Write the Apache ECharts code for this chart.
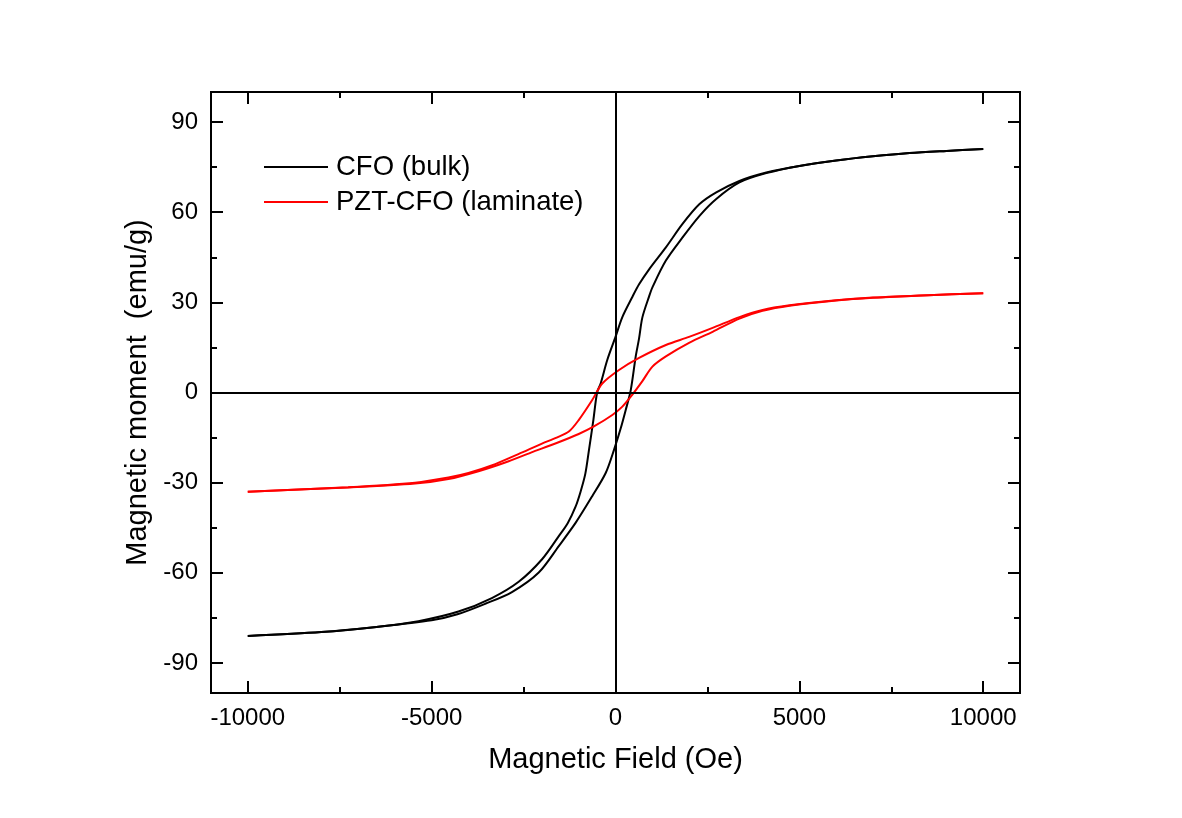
<!DOCTYPE html>
<html>
<head>
<meta charset="utf-8">
<script src="https://cdn.jsdelivr.net/npm/echarts@6/dist/echarts.min.js"></script>
<style>
  html, body { margin: 0; padding: 0; background: #fff; }
  #chart { width: 1182px; height: 818px; }
</style>
</head>
<body>
<div id="chart"></div>
<script>
// CFO (bulk) loop: field sweeping down from +10 kOe, then back up
var cfoDownField = [10000, 9000, 8000, 7000, 6000, 5000, 4100, 3370, 2740, 2285, 1823, 1370, 914, 641, 458, 186, 0, -224, -404, -500, -600, -720, -820, -950, -1086, -1300, -1542, -1997, -2633, -3362, -4270, -5362, -6500, -8000, -10000];
var cfoDownMoment = [81.0, 80.4, 79.7, 78.6, 77.2, 75.4, 73.2, 70.4, 66.6, 62.7, 56.1, 48.3, 41.0, 36.0, 31.8, 25.1, 18.5, 10.8, 3.0, 0.0, -9.0, -19.0, -27.0, -33.0, -38.0, -43.5, -47.8, -55.5, -63.0, -68.4, -72.9, -76.1, -78.0, -79.7, -81.0];
var cfoUpField = [-10000, -8000, -6500, -5000, -4300, -3542, -2816, -2087, -1542, -1086, -633, -267, -41, 140, 278, 415, 550, 641, 731, 914, 1004, 1370, 1823, 2285, 2740, 3370, 4100, 5000, 6000, 7000, 8000, 9000, 10000];
var cfoUpMoment = [-81.0, -79.7, -78.0, -75.8, -73.8, -70.3, -66.4, -59.9, -51.1, -43.4, -34.5, -26.8, -19.1, -12.0, -5.8, 0.8, 12.0, 18.0, 25.0, 32.0, 35.0, 43.9, 51.6, 58.8, 64.4, 69.9, 73.0, 75.4, 77.2, 78.6, 79.7, 80.4, 81.0];

// PZT-CFO (laminate) loop
var pztDownField = [10000, 8500, 7000, 6000, 4734, 4000, 3370, 2641, 2000, 1370, 641, 96, -360, -633, -996, -1269, -1600, -2000, -2641, -3370, -4000, -4543, -5450, -7270, -10000];
var pztDownMoment = [33.0, 32.4, 31.6, 30.7, 29.0, 27.5, 25.1, 21.5, 18.5, 15.8, 11.5, 7.5, 3.0, -2.5, -9.1, -13.0, -15.0, -17.0, -20.5, -24.3, -26.8, -28.3, -30.0, -31.5, -33.0];
var pztUpField = [-10000, -7270, -5450, -4543, -3725, -3000, -2300, -1600, -1000, -587, -87, 186, 415, 731, 1004, 1370, 2000, 2641, 3370, 4000, 4734, 6000, 7000, 8500, 10000];
var pztUpMoment = [-33.0, -31.6, -30.3, -28.8, -26.2, -23.3, -20.0, -16.8, -13.8, -11.3, -7.5, -4.7, -1.4, 3.8, 8.6, 12.0, 16.5, 20.2, 24.6, 27.2, 28.9, 30.6, 31.5, 32.4, 33.0];

var fieldMajor = [-10000, -5000, 0, 5000, 10000];
var fieldMinor = [-7500, -2500, 2500, 7500];
var momentMajor = [-90, -60, -30, 0, 30, 60, 90];
var momentMinor = [-75, -45, -15, 15, 45, 75];

function zip(xs, ys) {
  return xs.map(function (x, i) { return [x, ys[i]]; });
}

var font = 'Liberation Sans, Arial, sans-serif';
var myChart = echarts.init(document.getElementById('chart'));

function frameAxis(pos, ticks, len, showLabel, range) {
  return {
    type: 'value',
    position: pos,
    min: range[0],
    max: range[1],
    axisLine: { show: true, onZero: false, lineStyle: { color: '#000', width: 2 } },
    axisTick: { show: true, inside: true, length: len, customValues: ticks, lineStyle: { color: '#000', width: 2 } },
    axisLabel: {
      show: showLabel, customValues: ticks, color: '#000', fontSize: 24, fontFamily: font, margin: 13,
      formatter: function (v) { return String(v); }
    },
    splitLine: { show: false }
  };
}

var xMain = frameAxis('bottom', fieldMajor, 12, true, [-11000, 11000]);
xMain.name = 'Magnetic Field (Oe)';
xMain.nameLocation = 'middle';
xMain.nameGap = 52;
xMain.nameTextStyle = { color: '#000', fontSize: 29, fontFamily: font };

var yMain = frameAxis('left', momentMajor, 12, true, [-100, 100]);
yMain.name = 'Magnetic moment  (emu/g)';
yMain.nameLocation = 'middle';
yMain.nameGap = 58;
yMain.nameTextStyle = { color: '#000', fontSize: 29, fontFamily: font };

var lineStyleBlack = { color: '#000', width: 2 };
var lineStyleRed = { color: '#ff0000', width: 2 };

var option = {
  backgroundColor: '#fff',
  animation: false,
  grid: { left: 211, right: 162, top: 92, bottom: 125 },
  legend: {
    data: ['CFO (bulk)', 'PZT-CFO (laminate)'],
    orient: 'vertical',
    left: 264,
    top: 153,
    padding: 0,
    icon: 'rect',
    itemWidth: 64,
    itemHeight: 2,
    itemGap: 7,
    textStyle: { color: '#000', fontSize: 27.5, fontFamily: font, padding: [0, 0, 0, 3] }
  },
  xAxis: [
    xMain,
    frameAxis('top', fieldMajor, 12, false, [-11000, 11000]),
    frameAxis('bottom', fieldMinor, 6, false, [-11000, 11000]),
    frameAxis('top', fieldMinor, 6, false, [-11000, 11000])
  ],
  yAxis: [
    yMain,
    frameAxis('right', momentMajor, 12, false, [-100, 100]),
    frameAxis('left', momentMinor, 6, false, [-100, 100]),
    frameAxis('right', momentMinor, 6, false, [-100, 100])
  ],
  series: [
    {
      name: 'CFO (bulk)', type: 'line', symbol: 'none', smooth: 0.3,
      data: zip(cfoDownField, cfoDownMoment),
      lineStyle: lineStyleBlack, itemStyle: { color: '#000' },
      markLine: {
        silent: true, symbol: 'none', label: { show: false },
        lineStyle: { color: '#000', width: 2, type: 'solid' },
        data: [{ xAxis: 0 }, { yAxis: 0 }]
      }
    },
    {
      name: 'CFO (bulk)', type: 'line', symbol: 'none', smooth: 0.3,
      data: zip(cfoUpField, cfoUpMoment),
      lineStyle: lineStyleBlack, itemStyle: { color: '#000' }
    },
    {
      name: 'PZT-CFO (laminate)', type: 'line', symbol: 'none', smooth: 0.3,
      data: zip(pztDownField, pztDownMoment),
      lineStyle: lineStyleRed, itemStyle: { color: '#ff0000' }
    },
    {
      name: 'PZT-CFO (laminate)', type: 'line', symbol: 'none', smooth: 0.3,
      data: zip(pztUpField, pztUpMoment),
      lineStyle: lineStyleRed, itemStyle: { color: '#ff0000' }
    }
  ]
};
myChart.setOption(option);
</script>
</body>
</html>
